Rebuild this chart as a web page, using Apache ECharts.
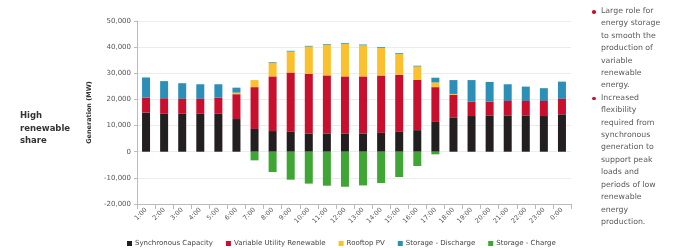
<!DOCTYPE html>
<html>
<head>
<meta charset="utf-8">
<script src="https://cdn.jsdelivr.net/npm/echarts@6/dist/echarts.min.js"></script>
<style>
  html, body { margin: 0; padding: 0; background: #fff; }
  .wrap { position: relative; width: 677px; height: 248px; font-family: "DejaVu Sans", sans-serif; }
  #chart { position: absolute; left: 0; top: 0; width: 677px; height: 248px; }
  .side { position: absolute; left: 20px; top: 109px; font-size: 8.5px; font-weight: bold; color: #333; line-height: 12.6px; }
  .notes { position: absolute; left: 592px; top: 5px; width: 85px; font-size: 7.8px; color: #5a5a5a; line-height: 12.4px; }
  .notes .item { position: relative; padding-left: 9px; }
  .notes .item:before { content: ""; position: absolute; left: 0; top: 5px; width: 3.5px; height: 3.5px; border-radius: 50%; background: #c8102e; }
</style>
</head>
<body>
<div class="wrap">
  <div id="chart"></div>
  <div class="side">High<br>renewable<br>share</div>
  <div class="notes">
    <div class="item">Large role for<br>energy storage<br>to smooth the<br>production of<br>variable<br>renewable<br>energy.</div>
    <div class="item">Increased<br>flexibility<br>required from<br>synchronous<br>generation to<br>support peak<br>loads and<br>periods of low<br>renewable<br>energy<br>production.</div>
  </div>
</div>
<script>
// hours of the day
const hours = ['1:00','2:00','3:00','4:00','5:00','6:00','7:00','8:00','9:00','10:00','11:00','12:00',
  '13:00','14:00','15:00','16:00','17:00','18:00','19:00','20:00','21:00','22:00','23:00','0:00'];

// MW
const synchronous = [15000,14500,14500,14500,14500,12500,8700,7900,7600,7000,7000,7000,
  7000,7200,7600,8250,11400,13150,13650,13900,13900,13900,13650,14300];
const utilityRenewable = [5700,5950,5700,5700,6200,9500,16000,20900,22700,22800,22200,21800,
  21800,21950,21800,19250,13300,8550,5500,5250,5500,5500,5750,5900];
const rooftopPV = [0,0,0,0,0,600,2700,5100,8000,10400,11600,12500,
  11900,10550,8000,5100,1800,400,0,0,0,0,0,0];
const storageDischarge = [7700,6550,6000,5600,5100,1900,0,300,300,300,300,300,
  300,300,300,300,1800,5300,8250,7550,6400,5500,4900,6600];
const storageCharge = [0,0,0,0,0,0,-3300,-7750,-10700,-12200,-13000,-13400,
  -12900,-12000,-9700,-5450,-1000,0,0,0,0,0,0,0];

const yTicks = { min: -20000, max: 50000, interval: 10000 };

const chart = echarts.init(document.getElementById('chart'));

function bar(name, data, color) {
  return { name: name, type: 'bar', stack: 'gen', data: data, barWidth: 8, itemStyle: { color: color } };
}

chart.setOption({
  animation: false,
  grid: { left: 137, right: 106, top: 21, bottom: 44 },
  legend: {
    left: 122, top: 235,
    itemWidth: 5, itemHeight: 5, itemGap: 13,
    icon: 'rect',
    textStyle: { fontSize: 7, color: '#444', fontFamily: 'DejaVu Sans', padding: [0, 0, 0, -2] },
    data: ['Synchronous Capacity','Variable Utility Renewable','Rooftop PV','Storage - Discharge','Storage - Charge']
  },
  xAxis: {
    type: 'category',
    data: hours,
    axisLine: { onZero: false, lineStyle: { color: '#bbb' } },
    axisTick: { show: true, lineStyle: { color: '#bbb' } },
    axisLabel: { rotate: 45, fontSize: 6.5, color: '#555', margin: 5, interval: 0, fontFamily: 'DejaVu Sans' }
  },
  yAxis: {
    type: 'value',
    min: yTicks.min, max: yTicks.max, interval: yTicks.interval,
    name: 'Generation (MW)',
    nameLocation: 'middle',
    nameGap: 43,
    nameTextStyle: { fontSize: 6.5, fontWeight: 'bold', color: '#333', fontFamily: 'DejaVu Sans' },
    axisLine: { show: true, lineStyle: { color: '#bbb' } },
    axisTick: { show: true, length: 3, lineStyle: { color: '#bbb' } },
    splitLine: { lineStyle: { color: '#ececec' } },
    axisLabel: {
      fontSize: 7, color: '#555', margin: 6, fontFamily: 'DejaVu Sans',
      formatter: v => v.toLocaleString('en-US')
    }
  },
  series: [
    bar('Synchronous Capacity', synchronous, '#231f20'),
    bar('Variable Utility Renewable', utilityRenewable, '#c8102e'),
    bar('Rooftop PV', rooftopPV, '#fbc02d'),
    bar('Storage - Discharge', storageDischarge, '#2b8fb8'),
    bar('Storage - Charge', storageCharge, '#3fa535')
  ]
});
</script>
</body>
</html>
